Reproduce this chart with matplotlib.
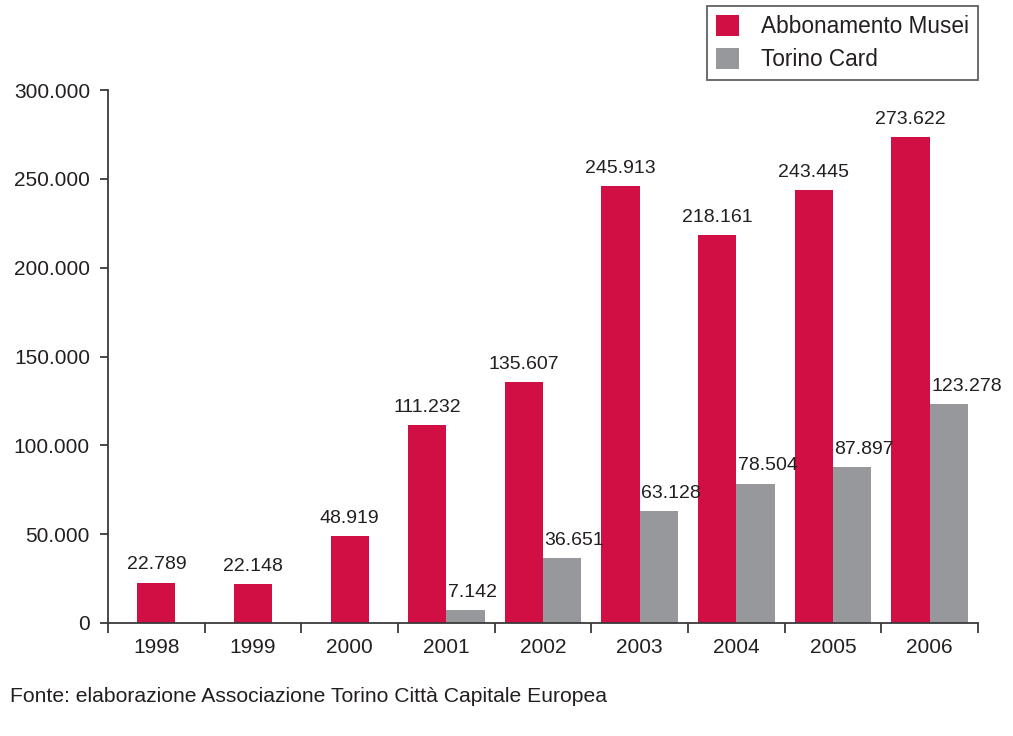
import matplotlib
matplotlib.use("Agg")
import matplotlib.pyplot as plt
import numpy as np

years = ["1998", "1999", "2000", "2001", "2002", "2003", "2004", "2005", "2006"]
abbonamento = [22789, 22148, 48919, 111232, 135607, 245913, 218161, 243445, 273622]
torino_card = [None, None, None, 7142, 36651, 63128, 78504, 87897, 123278]
yticks = [0, 50000, 100000, 150000, 200000, 250000, 300000]
ytick_labels = ["0", "50.000", "100.000", "150.000", "200.000", "250.000", "300.000"]

RED = "#D20F45"
GRAY = "#97989C"
TXT = "#231F20"
AX = "#3a3a3a"

plt.rcParams['font.family'] = ['Liberation Sans', 'DejaVu Sans']

W, H = 1013, 736
fig = plt.figure(figsize=(W / 100, H / 100), dpi=100)
ax = fig.add_axes([108 / W, 1 - 623 / H, (978 - 108) / W, (623 - 90) / H])

def fmt(v):
    return f"{v:,}".replace(",", ".")

x = np.arange(len(years))
bw = 0.395
has_tc = np.array([v is not None for v in torino_card])
red_x = np.where(has_tc, x - bw / 2, x)
b1 = ax.bar(red_x, abbonamento, width=bw, color=RED, label="Abbonamento Musei", zorder=2)
tc_x = x[has_tc] + bw / 2
tc_vals = [v for v in torino_card if v is not None]
b2 = ax.bar(tc_x, tc_vals, width=bw, color=GRAY, label="Torino Card", zorder=2)

for xi, v in zip(red_x, abbonamento):
    ax.annotate(fmt(v), (xi, v), xytext=(0, 6.5), textcoords="offset points",
                ha="center", va="bottom", fontsize=14, color=TXT)
for xi, v in zip(tc_x, tc_vals):
    ax.annotate(fmt(v), (xi - bw / 2, v), xytext=(1, 6.5), textcoords="offset points",
                ha="left", va="bottom", fontsize=14, color=TXT)

ax.set_xlim(-0.5, len(years) - 0.5)
ax.set_ylim(0, 300000)
ax.set_yticks(yticks)
ax.set_yticklabels(ytick_labels)
ax.set_xticks(x)
ax.set_xticklabels(years)
ax.set_xticks(np.arange(-0.5, len(years)), minor=True)

for s in ["top", "right"]:
    ax.spines[s].set_visible(False)
for s in ["left", "bottom"]:
    ax.spines[s].set_color(AX)
    ax.spines[s].set_linewidth(1.3)

ax.tick_params(axis="y", length=6, width=1.3, color=AX, pad=7, labelsize=15, labelcolor=TXT)
ax.tick_params(axis="x", which="major", length=0, pad=11, labelsize=15, labelcolor=TXT)
ax.tick_params(axis="x", which="minor", length=7.5, width=1.3, color=AX)

leg = fig.legend(handles=[b1, b2], loc="upper right",
                 bbox_to_anchor=(978 / W, 1 - 6 / H), fontsize=16.3,
                 frameon=True, fancybox=False, handlelength=1.05, handleheight=1.05,
                 handletextpad=0.95, labelspacing=0.42, borderpad=0.4,
                 borderaxespad=0)
leg.get_frame().set_edgecolor(AX)
leg.get_frame().set_linewidth(1.3)
for t in leg.get_texts():
    t.set_color(TXT)

fig.text(10 / W, 1 - 697 / H, "Fonte: elaborazione Associazione Torino Città Capitale Europea",
         ha="left", va="center", fontsize=15.2, color=TXT)

fig.savefig("out.png", dpi=100)
